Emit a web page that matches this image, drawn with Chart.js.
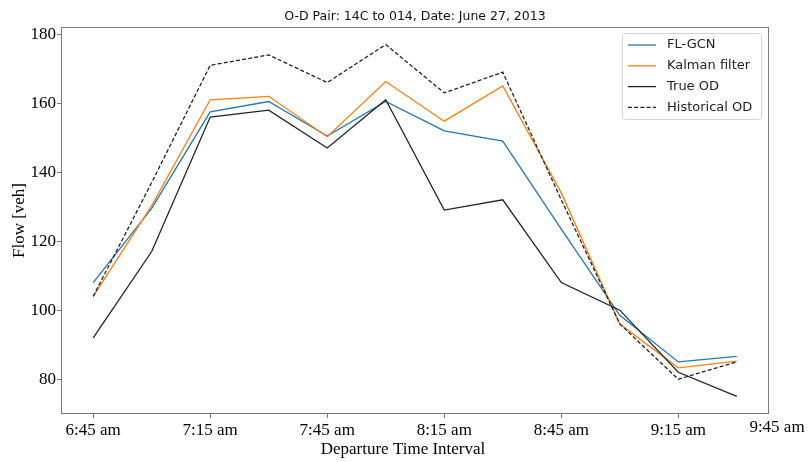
<!DOCTYPE html>
<html>
<head>
<meta charset="utf-8">
<script src="https://cdn.jsdelivr.net/npm/chart.js@4.4.1/dist/chart.umd.min.js"></script>
<style>
  html, body { margin: 0; padding: 0; background: #fff; }
  canvas { display: block; }
</style>
</head>
<body>
<canvas id="odChart" width="808" height="462"></canvas>
<script>
// 15-minute departure intervals, 6:45 am .. 9:30 am
const intervals = [0, 1, 2, 3, 4, 5, 6, 7, 8, 9, 10, 11];
const tickLabels = ['6:45 am', '7:15 am', '7:45 am', '8:15 am', '8:45 am', '9:15 am', '9:45 am'];

const flGcn = [108, 129.5, 157.5, 160.5, 150.5, 160.5, 152, 149, 123.5, 98.5, 85, 86.6];
const kalman = [104, 130.3, 161, 162, 150.3, 166.3, 154.8, 165, 134, 96, 83.3, 85.2];
const trueOd = [92, 117, 156, 158, 147, 161, 129, 132, 108, 100, 82, 75];
const historicalOd = [104, 137, 171, 174, 166, 177, 163, 169, 132, 96, 80, 85];

const yTicks = [80, 100, 120, 140, 160, 180];

const serif = '"Liberation Serif", "Times New Roman", serif';
const sans = '"DejaVu Sans", sans-serif';

function points(values) {
  return values.map((v, i) => ({ x: intervals[i], y: v }));
}

// frame, title, last tick label, x title and legend drawn like matplotlib
const extras = {
  id: 'extras',
  afterDraw(chart) {
    const ctx = chart.ctx;
    const a = chart.chartArea;
    ctx.save();

    ctx.strokeStyle = '#7a7a7a';
    ctx.lineWidth = 1;
    ctx.strokeRect(a.left + 0.5, a.top + 0.5, a.right - a.left - 1, a.bottom - a.top - 1);

    ctx.fillStyle = '#111';
    ctx.font = '12.5px ' + sans;
    ctx.textAlign = 'center';
    ctx.textBaseline = 'middle';
    ctx.fillText('O-D Pair: 14C to 014, Date: June 27, 2013', (a.left + a.right) / 2, 17);

    ctx.font = '17px ' + serif;
    ctx.fillStyle = '#000';
    ctx.fillText(tickLabels[tickLabels.length - 1], a.right + 8, a.bottom + 14);
    ctx.fillText('Departure Time Interval', (a.left + a.right) / 2 - 12, a.bottom + 36);

    // legend
    const lx = 622.5, ly = 33.5, lw = 139, lh = 86;
    ctx.fillStyle = 'rgba(255,255,255,0.85)';
    ctx.strokeStyle = '#d4d4d4';
    ctx.beginPath();
    ctx.roundRect(lx, ly, lw, lh, 3);
    ctx.fill();
    ctx.stroke();

    ctx.font = '13px ' + sans;
    ctx.textAlign = 'left';
    chart.data.datasets.forEach((ds, i) => {
      const y = 45 + i * 20.8;
      ctx.strokeStyle = ds.borderColor;
      ctx.lineWidth = ds.borderWidth;
      ctx.setLineDash(ds.borderDash || []);
      ctx.beginPath();
      ctx.moveTo(628, y);
      ctx.lineTo(656, y);
      ctx.stroke();
      ctx.setLineDash([]);
      ctx.fillStyle = '#222';
      ctx.fillText(ds.label, 667, y);
    });
    ctx.restore();
  }
};

new Chart(document.getElementById('odChart'), {
  type: 'line',
  data: {
    datasets: [
      { label: 'FL-GCN', data: points(flGcn), borderColor: '#1f77b4', borderWidth: 1.3, order: 4 },
      { label: 'Kalman filter', data: points(kalman), borderColor: '#ff7f0e', borderWidth: 1.3, order: 3 },
      { label: 'True OD', data: points(trueOd), borderColor: '#222222', borderWidth: 1.3, order: 2 },
      { label: 'Historical OD', data: points(historicalOd), borderColor: '#222222', borderWidth: 1.3, borderDash: [4, 2.2], order: 1 }
    ]
  },
  options: {
    responsive: false,
    animation: false,
    layout: { padding: { left: 0, top: 27, right: 39, bottom: 0 } },
    elements: { point: { radius: 0 }, line: { tension: 0, fill: false } },
    plugins: { legend: { display: false }, tooltip: { enabled: false } },
    scales: {
      x: {
        type: 'linear',
        min: -0.55,
        max: 11.55,
        afterFit: s => { s.height = 48; },
        afterBuildTicks: s => { s.ticks = tickLabels.slice(0, 6).map((_, i) => ({ value: i * 2 })); },
        grid: { display: true, drawOnChartArea: false, drawTicks: true, tickLength: 4, color: '#7a7a7a' },
        border: { display: false },
        ticks: {
          autoSkip: false,
          maxRotation: 0,
          padding: 2,
          color: '#000',
          font: { family: serif, size: 17 },
          callback: v => tickLabels[v / 2]
        }
      },
      y: {
        type: 'linear',
        min: 69.9,
        max: 182.1,
        afterFit: s => { s.width = 61; },
        afterBuildTicks: s => { s.ticks = yTicks.map(v => ({ value: v })); },
        grid: { display: true, drawOnChartArea: false, drawTicks: true, tickLength: 4, color: '#7a7a7a' },
        border: { display: false },
        title: { display: true, text: 'Flow [veh]', color: '#000', font: { family: serif, size: 17 }, padding: { top: 9, bottom: 0 } },
        ticks: { padding: 1, color: '#000', font: { family: serif, size: 17 } }
      }
    }
  },
  plugins: [extras]
});
</script>
</body>
</html>
